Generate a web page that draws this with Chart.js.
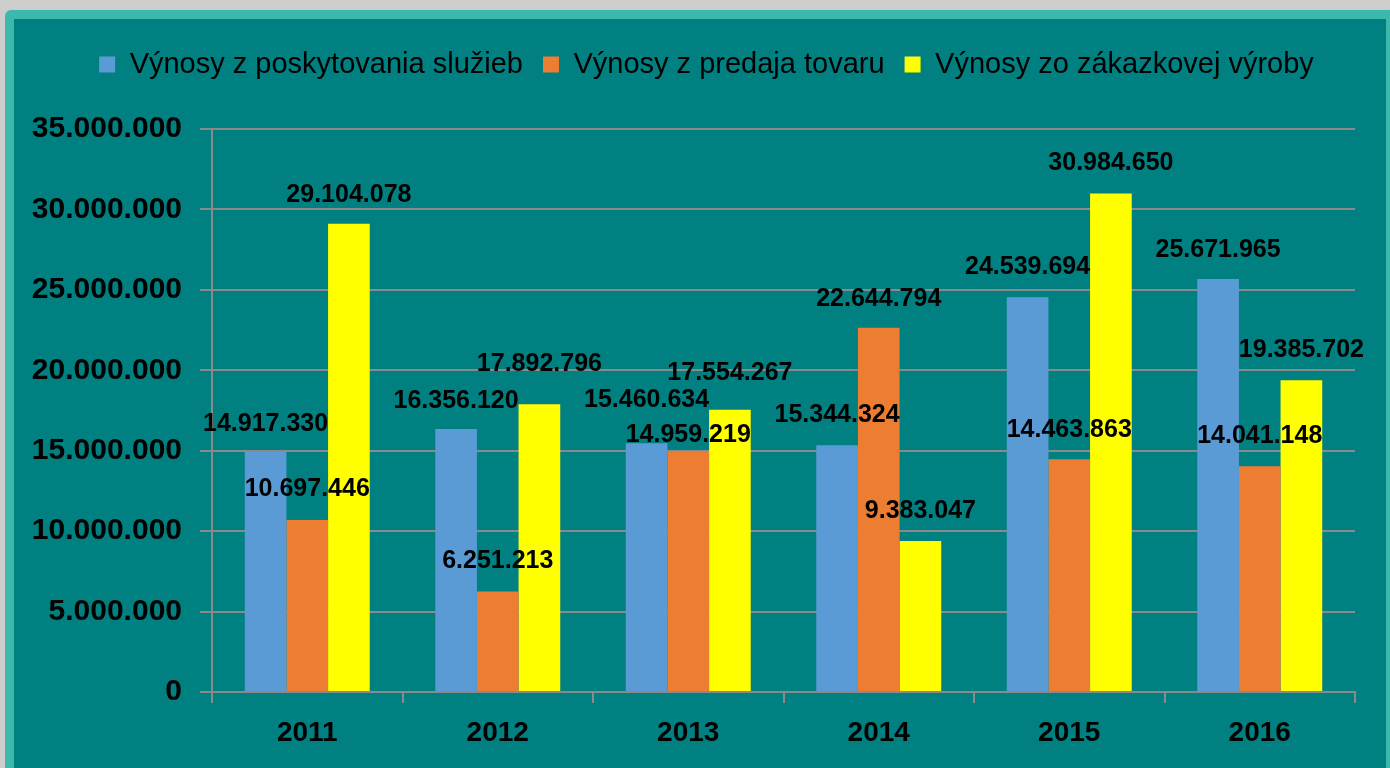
<!DOCTYPE html>
<html>
<head>
<meta charset="utf-8">
<script src="https://cdn.jsdelivr.net/npm/chart.js@4"></script>
<style>
	html, body { margin: 0; padding: 0; background: #cdcdcd; overflow: hidden; }
	.frame {
		position: absolute; left: 5px; top: 10px; width: 1390px; height: 780px;
		background: #008080; border: 9px solid #3cb8ad; border-radius: 6px;
		box-sizing: border-box;
	}
	#chart_wrap { position: absolute; left: 0; top: 0; width: 1390px; height: 768px; }
</style>
</head>
<body>
<div class="frame"></div>
<div id="chart_wrap"><canvas id="revenue_chart"></canvas></div>
<script>
const years = ['2011', '2012', '2013', '2014', '2015', '2016'];
const services = [14917330, 16356120, 15460634, 15344324, 24539694, 25671965];
const goods = [10697446, 6251213, 14959219, 22644794, 14463863, 14041148];
const orders = [29104078, 17892796, 17554267, 9383047, 30984650, 19385702];
const seriesNames = ['Výnosy z poskytovania služieb', 'Výnosy z predaja tovaru', 'Výnosy zo zákazkovej výroby'];
const yTicks = [0, 5000000, 10000000, 15000000, 20000000, 25000000, 30000000, 35000000];

// how far above the bar top each value label sits (px), like the hand-moved Excel labels
const labelLift = [
	[28, 28, 43, 30, 30, 29],
	[31, 30, 16, 29, 29, 30],
	[29, 40, 37, 30, 30, 30]
];

function fmt(v) {
	return String(v).replace(/\B(?=(\d{3})+(?!\d))/g, '.');
}

const valueLabels = {
	id: 'valueLabels',
	afterDatasetsDraw(chart) {
		const ctx = chart.ctx;
		ctx.save();
		ctx.font = 'bold 25px "Liberation Sans", Arial, sans-serif';
		ctx.fillStyle = '#000';
		ctx.textAlign = 'center';
		ctx.textBaseline = 'middle';
		chart.data.datasets.forEach((ds, di) => {
			chart.getDatasetMeta(di).data.forEach((bar, i) => {
				ctx.fillText(fmt(ds.data[i]), bar.x, bar.y - labelLift[di][i]);
			});
		});
		ctx.restore();
	}
};

// extra room under the legend, and legend centred a bit further right
const legendGap = {
	id: 'legendGap',
	afterInit(chart) {
		const legend = chart.legend;
		if (!legend) return;
		const fit = legend.fit;
		legend.fit = function () {
			fit.call(this);
			this.height += 40;
		};
	},
	afterLayout(chart) {
		if (!chart.legend) return;
		chart.legend.left += 29;
		chart.legend.right += 29;
	}
};

const gridColor = '#8a8a8a';

new Chart(document.getElementById('revenue_chart'), {
	type: 'bar',
	data: {
		labels: years,
		datasets: [
			{ label: seriesNames[0], data: services, backgroundColor: '#5b9bd5' },
			{ label: seriesNames[1], data: goods, backgroundColor: '#ed7d31' },
			{ label: seriesNames[2], data: orders, backgroundColor: '#ffff00' }
		]
	},
	options: {
		responsive: true,
		maintainAspectRatio: false,
		animation: false,
		datasets: { bar: { categoryPercentage: 0.656, barPercentage: 1.0 } },
		layout: { padding: { left: 0, right: 35, top: 30, bottom: 0 } },
		plugins: {
			tooltip: { enabled: false },
			legend: {
				position: 'top',
				labels: {
					color: '#000',
					boxWidth: 16,
					boxHeight: 16,
					padding: 20,
					font: { family: '"Liberation Sans", Arial, sans-serif', size: 29 }
				}
			}
		},
		scales: {
			x: {
				grid: { display: true, drawOnChartArea: false, offset: true, color: gridColor, lineWidth: 2, tickLength: 11 },
				border: { display: true, color: gridColor, width: 2 },
				ticks: { color: '#000', padding: 13, font: { family: '"Liberation Sans", Arial, sans-serif', size: 28, weight: 'bold' } },
				afterFit(scale) { scale.height = 76; }
			},
			y: {
				min: 0,
				max: 35000000,
				afterBuildTicks(scale) { scale.ticks = yTicks.map(v => ({ value: v })); },
				grid: { color: gridColor, lineWidth: 2, tickLength: 12 },
				border: { display: true, color: gridColor, width: 2 },
				ticks: {
					color: '#000',
					padding: 18,
					font: { family: '"Liberation Sans", Arial, sans-serif', size: 30, weight: 'bold' },
					callback: (v) => fmt(v)
				},
				afterFit(scale) { scale.width = 212; }
			}
		}
	},
	plugins: [valueLabels, legendGap]
});
</script>
</body>
</html>
